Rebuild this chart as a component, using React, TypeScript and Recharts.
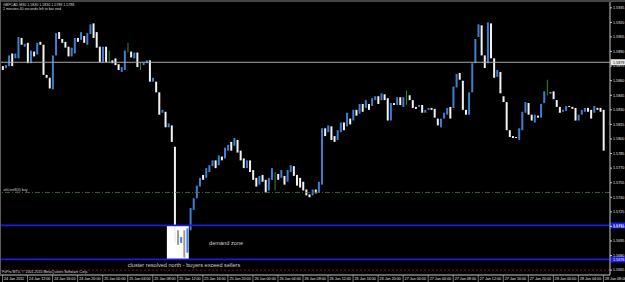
import React from 'react';
import { ComposedChart, Bar, XAxis, YAxis, ReferenceLine, ReferenceArea, ReferenceDot } from 'recharts';

// GBPCAD M30 bars (open / close per bar)
const opens = [
  1.5875, 1.5873, 1.5875, 1.5888, 1.5883, 1.5883, 1.5904, 1.5895, 1.5899, 1.5878,
  1.5890, 1.5887, 1.5900, 1.5897, 1.5866, 1.5863, 1.5851, 1.5886, 1.5910, 1.5903,
  1.5900, 1.5895, 1.5885, 1.5888, 1.5904, 1.5902, 1.5906, 1.5897, 1.5908, 1.5919,
  1.5910, 1.5895, 1.5879, 1.5895, 1.5885, 1.5881, 1.5883, 1.5877, 1.5869, 1.5871,
  1.5894, 1.5890, 1.5883, 1.5889, 1.5875, 1.5876, 1.5878, 1.5881, 1.5859, 1.5859,
  1.5848, 1.5827, 1.5828, 1.5812, 1.5814, 1.5792, 1.5706, 1.5693, 1.5706, 1.5683,
  1.5706, 1.5727, 1.5739, 1.5751, 1.5763, 1.5760, 1.5766, 1.5772, 1.5778, 1.5773,
  1.5782, 1.5780, 1.5788, 1.5797, 1.5793, 1.5799, 1.5788, 1.5780, 1.5770, 1.5778,
  1.5768, 1.5760, 1.5753, 1.5763, 1.5758, 1.5747, 1.5758, 1.5757, 1.5764, 1.5760,
  1.5762, 1.5756, 1.5766, 1.5772, 1.5763, 1.5760, 1.5756, 1.5748, 1.5743, 1.5742,
  1.5748, 1.5745, 1.5753, 1.5811, 1.5807, 1.5813, 1.5803, 1.5799, 1.5807, 1.5817,
  1.5813, 1.5821, 1.5819, 1.5830, 1.5826, 1.5836, 1.5832, 1.5836, 1.5834, 1.5840,
  1.5844, 1.5840, 1.5846, 1.5842, 1.5819, 1.5837, 1.5835, 1.5843, 1.5833, 1.5842,
  1.5845, 1.5840, 1.5833, 1.5833, 1.5835, 1.5827, 1.5830, 1.5832, 1.5831, 1.5821,
  1.5812, 1.5821, 1.5825, 1.5833, 1.5832, 1.5853, 1.5868, 1.5860, 1.5830, 1.5825,
  1.5848, 1.5878, 1.5905, 1.5917, 1.5886, 1.5878, 1.5919, 1.5883, 1.5864, 1.5869,
  1.5844, 1.5838, 1.5809, 1.5803, 1.5802, 1.5799, 1.5809, 1.5827, 1.5837, 1.5825,
  1.5817, 1.5824, 1.5822, 1.5837, 1.5852, 1.5848, 1.5849, 1.5840, 1.5833, 1.5828,
  1.5829, 1.5834, 1.5833, 1.5832, 1.5819, 1.5825, 1.5828, 1.5832, 1.5830, 1.5827,
  1.5832, 1.5832, 1.5830,
];

const closes = [
  1.5871, 1.5876, 1.5886, 1.5875, 1.5888, 1.5905, 1.5897, 1.5898, 1.5878, 1.5891,
  1.5885, 1.5899, 1.5897, 1.5866, 1.5863, 1.5852, 1.5886, 1.5909, 1.5903, 1.5899,
  1.5894, 1.5885, 1.5894, 1.5904, 1.5900, 1.5910, 1.5899, 1.5909, 1.5918, 1.5904,
  1.5894, 1.5879, 1.5895, 1.5879, 1.5885, 1.5878, 1.5876, 1.5871, 1.5874, 1.5891,
  1.5894, 1.5884, 1.5889, 1.5874, 1.5875, 1.5879, 1.5881, 1.5859, 1.5863, 1.5848,
  1.5825, 1.5830, 1.5812, 1.5816, 1.5797, 1.5693, 1.5691, 1.5699, 1.5678, 1.5708,
  1.5729, 1.5739, 1.5752, 1.5760, 1.5758, 1.5770, 1.5773, 1.5778, 1.5770, 1.5783,
  1.5778, 1.5791, 1.5794, 1.5788, 1.5801, 1.5786, 1.5778, 1.5770, 1.5778, 1.5766,
  1.5758, 1.5751, 1.5762, 1.5756, 1.5745, 1.5760, 1.5770, 1.5757, 1.5758, 1.5768,
  1.5753, 1.5768, 1.5773, 1.5762, 1.5752, 1.5750, 1.5747, 1.5742, 1.5740, 1.5748,
  1.5744, 1.5756, 1.5811, 1.5803, 1.5814, 1.5799, 1.5797, 1.5809, 1.5817, 1.5809,
  1.5827, 1.5815, 1.5830, 1.5824, 1.5836, 1.5828, 1.5840, 1.5830, 1.5842, 1.5844,
  1.5836, 1.5847, 1.5840, 1.5819, 1.5837, 1.5835, 1.5843, 1.5835, 1.5843, 1.5842,
  1.5840, 1.5832, 1.5831, 1.5835, 1.5827, 1.5830, 1.5832, 1.5830, 1.5822, 1.5814,
  1.5821, 1.5827, 1.5832, 1.5821, 1.5854, 1.5867, 1.5861, 1.5830, 1.5825, 1.5848,
  1.5878, 1.5903, 1.5918, 1.5886, 1.5873, 1.5920, 1.5883, 1.5863, 1.5871, 1.5847,
  1.5838, 1.5809, 1.5802, 1.5801, 1.5801, 1.5811, 1.5828, 1.5838, 1.5825, 1.5819,
  1.5825, 1.5822, 1.5836, 1.5849, 1.5852, 1.5847, 1.5841, 1.5833, 1.5827, 1.5830,
  1.5834, 1.5833, 1.5831, 1.5819, 1.5825, 1.5830, 1.5832, 1.5828, 1.5821, 1.5834,
  1.5830, 1.5828, 1.5788,
];

// doji bars where only the shadow shows: [bar, low, high]
const dojiWicks = [
  [34, 1.5878, 1.5891],
  [40, 1.5889, 1.5899],
  [44, 1.5871, 1.5879],
  [87, 1.5747, 1.5766],
  [129, 1.5835, 1.585],
  [174, 1.5845, 1.5861],
];

const priceTicks = [
  1.5935, 1.592, 1.5905, 1.589, 1.5875, 1.586, 1.5845, 1.583, 1.5815, 1.58,
  1.5785, 1.577, 1.5755, 1.574, 1.5725, 1.571, 1.5695, 1.568, 1.5665,
];

const xTickLabels = [
  '24 Jan 2011', '24 Jan 12:00', '24 Jan 16:00', '24 Jan 20:00',
  '25 Jan 00:00', '25 Jan 04:00', '25 Jan 08:00', '25 Jan 12:00', '25 Jan 16:00', '25 Jan 20:00',
  '26 Jan 00:00', '26 Jan 04:00', '26 Jan 08:00', '26 Jan 12:00', '26 Jan 16:00', '26 Jan 20:00',
  '27 Jan 00:00', '27 Jan 04:00', '27 Jan 08:00', '27 Jan 12:00', '27 Jan 16:00', '27 Jan 20:00',
  '28 Jan 00:00', '28 Jan 04:00', '28 Jan 08:00',
];

const zone = { from: 53, to: 59, low: 1.5676, high: 1.5711 };
const lineLevel = 1.5879;
const buyLevel = 1.5745;
const redLevel = 1.5665;

const BLUE = '#3f7fd0';
const ZONE_BLUE = '#1c1ce0';
const FONT = 'Liberation Sans, Arial, sans-serif';

const pad = (n: number) => (n < 10 ? '0' + n : '' + n);
const barTimes = opens.map((_, i) => {
  const m = 8 * 60 + 30 * i;
  const d = 24 + Math.floor(m / 1440);
  return `${d} Jan ${pad(Math.floor((m % 1440) / 60))}:${pad(m % 60)}`;
});
const tickCats = xTickLabels.map((_, i) => barTimes[i * 8]);

const rows = opens.map((o, i) => {
  const c = closes[i];
  const w = dojiWicks.find((d) => d[0] === i);
  return {
    t: barTimes[i],
    open: o,
    close: c,
    body: o === c ? null : [Math.min(o, c), Math.max(o, c)],
    wick: w ? [w[1], w[2]] : null,
  };
});

const Candle = (props: any) => {
  const { x, y, width, height, payload, index } = props;
  if (!payload || !payload.body || !isFinite(y)) return <g />;
  const top = Math.min(y, y + height);
  const h = Math.max(Math.abs(height), 1);
  const up = payload.close > payload.open;
  const inZone = index >= zone.from && index <= zone.to && Math.max(payload.open, payload.close) <= zone.high + 0.0003;
  const fill = up ? BLUE : inZone ? '#9a9a9a' : '#f2f2f2';
  return <rect x={x + width / 2 - 1} y={top} width={2} height={h} fill={fill} />;
};

const Wick = (props: any) => {
  const { x, y, width, height, payload } = props;
  if (!payload || !payload.wick || !isFinite(y)) return <g />;
  const top = Math.min(y, y + height);
  const cx = x + width / 2;
  return <line x1={cx} x2={cx} y1={top} y2={top + Math.abs(height)} stroke="#2f8a2f" strokeWidth={1} />;
};

const XTick = (props: any) => {
  const { x, y, index } = props;
  return (
    <g>
      <line x1={x} x2={x} y1={y} y2={y + 7} stroke="#c8c8c8" strokeWidth={0.6} />
      <text x={x + 1.5} y={y + 4.8} fontSize={3.7} fontFamily={FONT} fill="#e6e6e6">
        {xTickLabels[index]}
      </text>
    </g>
  );
};

const PriceTag = (props: any) => {
  const { viewBox, text, bg, fg } = props;
  if (!viewBox) return null;
  const x0 = viewBox.x + viewBox.width + 0.5;
  return (
    <g>
      <rect x={x0} y={viewBox.y - 3} width={14.5} height={6} fill={bg} />
      <text x={x0 + 2.5} y={viewBox.y + 1.3} fontSize={3.7} fontFamily={FONT} fill={fg}>
        {text}
      </text>
    </g>
  );
};

const LineName = (props: any) => {
  const { viewBox } = props;
  if (!viewBox) return null;
  return (
    <text x={viewBox.x + 2.5} y={viewBox.y - 1.2} fontSize={3.6} fontFamily={FONT} fill="#d0d0d0">
      ahLine8(0) buy
    </text>
  );
};

const Note = (props: any) => {
  const { viewBox, text } = props;
  if (!viewBox) return null;
  return (
    <text x={viewBox.x} y={viewBox.y} dominantBaseline="central" fontSize={5.6} fontFamily={FONT} fill="#cdcdcd">
      {text}
    </text>
  );
};

export default function App() {
  const last = opens.length - 1;
  const hi = Math.max(opens[last], closes[last]);
  const lo = Math.min(opens[last], closes[last]);
  const header = `GBPCAD,M30  ${opens[last].toFixed(4)} ${hi.toFixed(4)} ${lo.toFixed(4)} ${closes[last].toFixed(4)}`;

  return (
    <div style={{ position: 'absolute', left: 0, top: 0, width: 625, height: 282, background: '#000' }}>
      <ComposedChart width={625} height={282} data={rows} margin={{ top: 2, right: 0, bottom: 0, left: 1 }}>
        <XAxis
          dataKey="t"
          ticks={tickCats}
          interval={0}
          tick={<XTick />}
          tickLine={false}
          tickSize={0}
          tickMargin={0}
          height={7}
          padding={{ left: 0, right: 5 }}
          axisLine={{ stroke: '#c8c8c8' }}
        />
        <XAxis xAxisId="w" dataKey="t" hide padding={{ left: 0, right: 5 }} />
        <YAxis
          orientation="right"
          type="number"
          domain={[1.566, 1.5941]}
          allowDataOverflow
          ticks={priceTicks}
          interval={0}
          width={15}
          tickSize={2}
          tickMargin={1}
          tickFormatter={(v: number) => v.toFixed(4)}
          tick={{ fill: '#e6e6e6', fontSize: 3.7, fontFamily: FONT }}
          axisLine={{ stroke: '#c8c8c8' }}
          tickLine={{ stroke: '#c8c8c8' }}
        />
        <ReferenceArea
          x1={barTimes[zone.from]}
          x2={barTimes[zone.to]}
          y1={zone.low}
          y2={zone.high}
          fill="#ffffff"
          fillOpacity={1}
          stroke="none"
        />
        <ReferenceLine y={redLevel} stroke="#a01a1a" strokeWidth={0.8} strokeDasharray="2 2" />
        <ReferenceLine y={buyLevel} stroke="#4f7f4f" strokeWidth={0.8} strokeDasharray="5 2 1 2" label={<LineName />} />
        <ReferenceLine
          y={zone.high}
          stroke={ZONE_BLUE}
          strokeWidth={1.8}
          label={<PriceTag text={zone.high.toFixed(4)} bg={ZONE_BLUE} fg="#ffffff" />}
        />
        <ReferenceLine
          y={zone.low}
          stroke={ZONE_BLUE}
          strokeWidth={1.8}
          label={<PriceTag text={zone.low.toFixed(4)} bg={ZONE_BLUE} fg="#ffffff" />}
        />
        <ReferenceLine
          y={lineLevel}
          stroke="#a8a8a8"
          strokeWidth={1.2}
          label={<PriceTag text={lineLevel.toFixed(4)} bg="#e8e8e8" fg="#000000" />}
        />
        <Bar xAxisId="w" dataKey="wick" shape={<Wick />} isAnimationActive={false} />
        <Bar dataKey="body" shape={<Candle />} isAnimationActive={false} />
        <ReferenceDot x={barTimes[66]} y={1.5693} r={0} fill="none" stroke="none" label={<Note text="demand zone" />} />
        <ReferenceDot
          x={barTimes[40]}
          y={1.567}
          r={0}
          fill="none"
          stroke="none"
          label={<Note text="cluster resolved north - buyers exceed sellers" />}
        />
      </ComposedChart>
      <svg width={625} height={282} style={{ position: 'absolute', left: 0, top: 0, pointerEvents: 'none' }}>
        <line x1={0} x2={625} y1={1} y2={1} stroke="#5c5c5c" strokeWidth={1.5} />
        <line x1={0.5} x2={0.5} y1={0} y2={276} stroke="#5c5c5c" strokeWidth={1} />
        <text x={3} y={5.5} fontSize={3.6} fontFamily={FONT} fill="#dcdcdc">{header}</text>
        <text x={3} y={10} fontSize={3.6} fontFamily={FONT} fill="#dcdcdc">2 minutes 40 seconds left to bar end</text>
        <text x={2} y={273.3} fontSize={3.6} fontFamily={FONT} fill="#dcdcdc">FxPro MT4, © 2001-2010 MetaQuotes Software Corp.</text>
      </svg>
    </div>
  );
}
